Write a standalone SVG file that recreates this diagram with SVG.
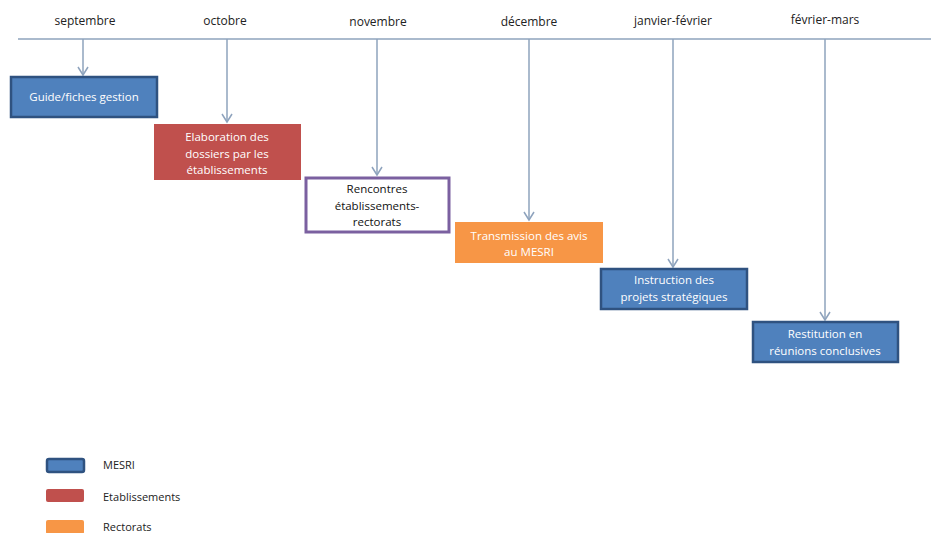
<svg xmlns="http://www.w3.org/2000/svg" width="931" height="533" viewBox="0 0 931 533">
<style>
  text { font-family: "Open Sans", "Liberation Sans", sans-serif; font-size: 11.5px; text-anchor: middle; }
  .month { fill: #222; font-size: 12px; }
  .wt { fill: #ffffff; }
  .dk { fill: #111111; }
  .leg { fill: #222; text-anchor: start; font-size: 11px; }
  .conn { stroke: #8ea3bd; stroke-width: 1.5; fill: none; }
  .mesri { fill: #4f81bd; stroke: #2f5280; stroke-width: 2.5; }
  .etab { fill: #c0504d; }
  .rect { fill: #f79646; }
  .renc { fill: #ffffff; stroke: #7b60a0; stroke-width: 3; }
</style>
<defs>
  <marker id="arr" markerWidth="12" markerHeight="12" refX="9" refY="6" orient="auto" markerUnits="userSpaceOnUse" viewBox="0 0 12 12">
    <polyline points="1,1 9,6 1,11" fill="none" stroke="#8ea3bd" stroke-width="1.5"/>
  </marker>
</defs>
<rect width="931" height="533" fill="#ffffff"/>

<g id="timeline">
  <line class="conn" x1="18" y1="39" x2="931" y2="39"/>
  <text class="month" x="85" y="25">septembre</text>
  <text class="month" x="225" y="25">octobre</text>
  <text class="month" x="378" y="26">novembre</text>
  <text class="month" x="529" y="26">décembre</text>
  <text class="month" x="673" y="25">janvier-février</text>
  <text class="month" x="825" y="24">février-mars</text>
</g>

<g id="connectors">
  <line class="conn" x1="83" y1="39" x2="83" y2="75" marker-end="url(#arr)"/>
  <line class="conn" x1="227" y1="39" x2="227" y2="122" marker-end="url(#arr)"/>
  <line class="conn" x1="377" y1="39" x2="377" y2="175" marker-end="url(#arr)"/>
  <line class="conn" x1="529" y1="39" x2="529" y2="220" marker-end="url(#arr)"/>
  <line class="conn" x1="673" y1="39" x2="673" y2="267" marker-end="url(#arr)"/>
  <line class="conn" x1="825" y1="39" x2="825" y2="320" marker-end="url(#arr)"/>
</g>

<g id="guide">
  <rect class="mesri" x="11" y="77" width="146" height="40"/>
  <text class="wt" x="84" y="101">Guide/fiches gestion</text>
</g>

<g id="elaboration">
  <rect class="etab" x="154" y="124" width="147" height="56"/>
  <text class="wt" x="227" y="141">Elaboration des</text>
  <text class="wt" x="227" y="158">dossiers par les</text>
  <text class="wt" x="227" y="174">établissements</text>
</g>

<g id="rencontres">
  <rect class="renc" x="306" y="178" width="143" height="54"/>
  <text class="dk" x="377" y="193">Rencontres</text>
  <text class="dk" x="377" y="210">établissements-</text>
  <text class="dk" x="377" y="226">rectorats</text>
</g>

<g id="transmission">
  <rect class="rect" x="455" y="222" width="148" height="41"/>
  <text class="wt" x="529" y="240">Transmission des avis</text>
  <text class="wt" x="529" y="256">au MESRI</text>
</g>

<g id="instruction">
  <rect class="mesri" x="601" y="269" width="146" height="40"/>
  <text class="wt" x="674" y="284">Instruction des</text>
  <text class="wt" x="674" y="301">projets stratégiques</text>
</g>

<g id="restitution">
  <rect class="mesri" x="753" y="322" width="145" height="40"/>
  <text class="wt" x="825" y="338">Restitution en</text>
  <text class="wt" x="825" y="355">réunions conclusives</text>
</g>

<g id="legend">
  <rect class="mesri" x="47" y="459" width="37" height="13" rx="2" stroke-width="1.5"/>
  <text class="leg" x="103" y="469">MESRI</text>
  <rect class="etab" x="46" y="489" width="38" height="13" rx="2"/>
  <text class="leg" x="103" y="501">Etablissements</text>
  <rect class="rect" x="46" y="520" width="38" height="14" rx="2"/>
  <text class="leg" x="103" y="531">Rectorats</text>
</g>
</svg>
